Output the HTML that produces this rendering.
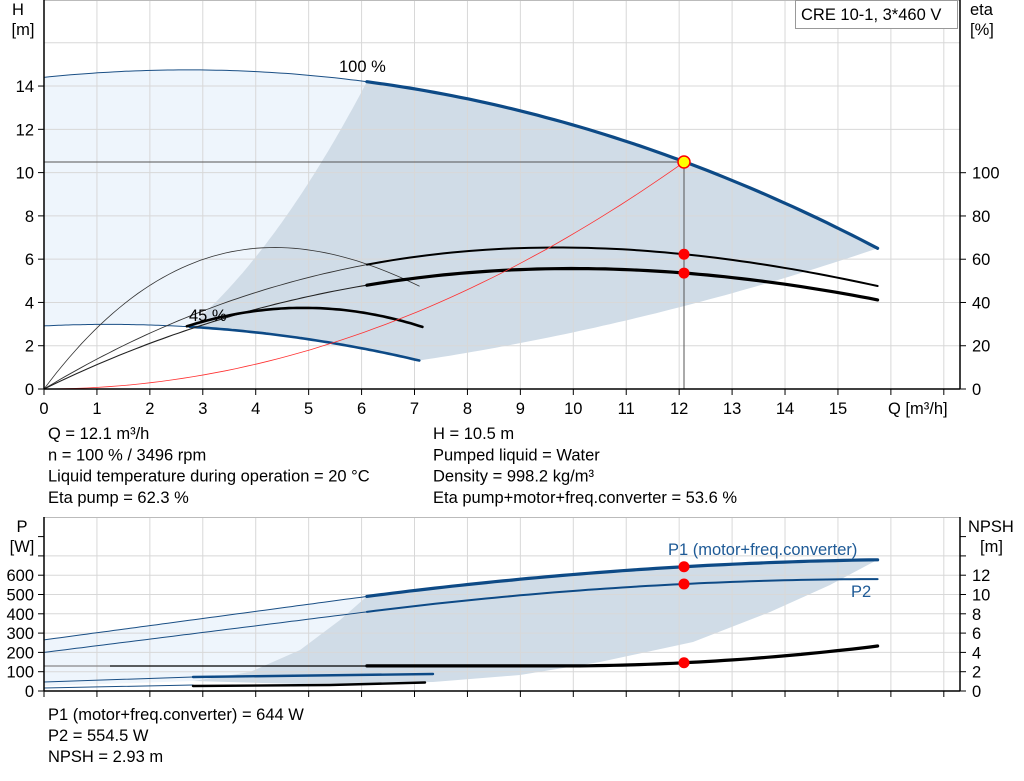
<!DOCTYPE html>
<html><head><meta charset="utf-8"><style>
html,body{margin:0;padding:0;background:#fff;}
svg{display:block;font-family:"Liberation Sans",Arial,sans-serif;}
</style></head><body>
<svg id="s" width="1024" height="781" viewBox="0 0 1024 781" xmlns="http://www.w3.org/2000/svg">
<g id="g"></g>
</svg>
<script>
var g=document.getElementById('g');var out='';
function X(q){return 44+q*52.93;}
function YH(h){return 389-h*21.64;}
function YE(e){return 389-e*2.163;}
function YP(p){return 691-p*0.193;}
function YN(n){return 691-n*9.65;}
function path(f,a,b,Y,n){n=n||60;var s='';for(var i=0;i<=n;i++){var q=a+(b-a)*i/n;s+=(i?'L':'M')+X(q).toFixed(1)+','+Y(f(q)).toFixed(1);}return s;}
function pts(f,a,b,Y,n){n=n||60;var r=[];for(var i=0;i<=n;i++){var q=a+(b-a)*i/n;r.push(X(q).toFixed(1)+','+Y(f(q)).toFixed(1));}return r;}
function solve(A,B){var n=B.length;for(var i=0;i<n;i++){for(var j=i+1;j<n;j++){var f=A[j][i]/A[i][i];for(var k=i;k<n;k++)A[j][k]-=f*A[i][k];B[j]-=f*B[i];}}var x=[];for(var i=n-1;i>=0;i--){var s=B[i];for(var k=i+1;k<n;k++)s-=A[i][k]*x[k];x[i]=s/A[i][i];}return x;}
function cubic0(p){var A=p.map(function(t){return [t[0],t[0]*t[0],t[0]*t[0]*t[0]];});var c=solve(A,p.map(function(t){return t[1];}));return function(q){return c[0]*q+c[1]*q*q+c[2]*q*q*q;};}
function cubic(p){var A=p.map(function(t){return [1,t[0],t[0]*t[0],t[0]*t[0]*t[0]];});var c=solve(A,p.map(function(t){return t[1];}));return function(q){return c[0]+c[1]*q+c[2]*q*q+c[3]*q*q*q;};}
function quad(p){var A=p.map(function(t){return [1,t[0],t[0]*t[0]];});var c=solve(A,p.map(function(t){return t[1];}));return function(q){return c[0]+c[1]*q+c[2]*q*q;};}
function L(x1,y1,x2,y2,c,w){out+='<line x1="'+x1+'" y1="'+y1+'" x2="'+x2+'" y2="'+y2+'" stroke="'+c+'" stroke-width="'+(w||1)+'"/>';}
function T(x,y,t,o){o=o||'';out+='<text x="'+x+'" y="'+y+'" font-size="16.5" '+o+'>'+t+'</text>';}
function P(d,c,w){out+='<path d="'+d+'" fill="none" stroke="'+c+'" stroke-width="'+w+'" stroke-linecap="round"/>';}

var H100=cubic([[0,14.4],[6.1,14.2],[12.1,10.5],[15.75,6.5]]);
var H45=function(q){return 0.2025*H100(q/0.45);};
var kL=14.2/(6.1*6.1), kR=6.5/(15.75*15.75);
var light=pts(H100,0,6.1,YH).concat(pts(function(q){return kL*q*q;},6.1,2.75,YH)).concat(pts(H45,2.75,0,YH));
out+='<polygon points="'+light.join(' ')+'" fill="#eef5fc"/>';
var dark=pts(H100,6.1,15.75,YH).concat(pts(function(q){return kR*q*q;},15.75,7.09,YH)).concat(pts(H45,7.09,2.75,YH)).concat(pts(function(q){return kL*q*q;},2.75,6.1,YH));
out+='<polygon points="'+dark.join(' ')+'" fill="#d0dce7"/>';
for(var h=2;h<=16;h+=2)L(44,YH(h),960,YH(h),'#d8d8d8',1);
for(var q=1;q<=17;q++)L(X(q),0,X(q),389,'#d8d8d8',1);
L(44,0.5,960,0.5,'#bbb',1);
var P1=function(q){return q<6.1?265+q*(490-265)/6.1:quad([[6.1,490],[12.1,644],[15.75,680]])(q);};
var P2=function(q){return q<6.1?200+q*(410-200)/6.1:quad([[6.1,410],[12.1,554.5],[15.75,580]])(q);};
out+='<polygon points="44,640 370,596 340,620 300,650 250,672 193,681 44,686" fill="#eef5fc"/>';
var bd=pts(P1,6.1,15.75,YP,40).concat(['830,585','770,612','693,642','600,662','520,675','433,682','300,684','193,681','250,672','300,650','340,620']);
out+='<polygon points="'+bd.join(' ')+'" fill="#d0dce7"/>';
for(var p=100;p<=700;p+=100)L(44,YP(p),960,YP(p),'#d8d8d8',1);
for(var q=1;q<=17;q++)L(X(q),517,X(q),691,'#d8d8d8',1);
L(44,517.5,960,517.5,'#bbb',1);

P(path(H100,0,6.1,YH),'#1a4f85',1);
P(path(H100,6.1,15.75,YH),'#0d4a86',3.2);
P(path(H45,0,2.75,YH),'#1a4f85',1);
P(path(H45,2.75,7.09,YH),'#0d4a86',2.6);
var fE=cubic0([[6.1,57.5],[12.1,62.3],[15.75,47.6]]);
var gE=cubic0([[6.1,48],[12.1,53.6],[15.75,41.2]]);
var e45=quad([[2.7,29],[5,37.5],[7.15,28.7]]);
P(path(function(q){return fE(q/0.45);},0,7.09,YE),'#333',0.8);
P(path(fE,0,6.1,YE),'#333',0.9);
P(path(gE,0,6.1,YE),'#222',1.1);
P(path(fE,6.1,15.75,YE),'#000',2);
P(path(gE,6.1,15.75,YE),'#000',3.2);
P(path(e45,2.7,7.15,YE),'#000',2.6);
P(path(function(q){return 10.5/146.41*q*q;},0,12.1,YH),'#ff3030',0.8);
L(44,162,684,162,'#555',1);L(684,162,684,389,'#555',1);
out+='<circle cx="684" cy="162" r="6" fill="#ffff00" stroke="#ff0000" stroke-width="1.5"/>';
out+='<circle cx="684" cy="'+YE(62.3)+'" r="5.5" fill="#ff0000"/>';
out+='<circle cx="684" cy="'+YE(53.6)+'" r="5.5" fill="#ff0000"/>';
T(339,72,'100 %');T(189,321,'45 %');
L(44,0,44,389,'#000',1.5);L(44,389,960,389,'#000',1.5);L(960,0,960,389,'#000',1.5);
for(var h=0;h<=14;h+=2){L(38,YH(h),44,YH(h),'#000',1);T(34,YH(h)+6,h,'text-anchor="end"');}
for(var e=0;e<=100;e+=20){L(960,YE(e),966,YE(e),'#000',1);T(972,YE(e)+6,e);}
for(var q=0;q<=17;q++){L(X(q),389,X(q),395,'#000',1);if(q<=15)T(X(q),414,q,'text-anchor="middle"');}
T(888,414,'Q [m³/h]');
T(18,15,'H','text-anchor="middle"');T(23,35,'[m]','text-anchor="middle"');
T(970,15,'eta');T(970,35,'[%]');
out+='<rect x="795.5" y="0.5" width="162" height="28" fill="#fff" stroke="#999"/>';
T(801,20,'CRE 10-1, 3*460 V');
var tl=['Q = 12.1 m³/h','n = 100 % / 3496 rpm','Liquid temperature during operation = 20 °C','Eta pump = 62.3 %'];
var tr=['H = 10.5 m','Pumped liquid = Water','Density = 998.2 kg/m³','Eta pump+motor+freq.converter = 53.6 %'];
for(var i=0;i<4;i++){T(48,439+i*21.3,tl[i]);T(433,439+i*21.3,tr[i]);}
P(path(P1,0,6.1,YP),'#1a4f85',1);P(path(P1,6.1,15.75,YP),'#0d4a86',3.2);
P(path(P2,0,6.1,YP),'#1a4f85',1);P(path(P2,6.1,15.75,YP),'#0d4a86',2);
P('M44,682 L193,677','#1a4f85',1);P('M193,677 L433,674','#0d4a86',2.4);
P('M44,688 L193,685','#1a4f85',1);P('M193,686 L330,685 L425,682.5','#000',2.4);
var NP=function(q){var d=Math.max(0,q-10);return 2.6+0.0413*d+0.0551*d*d;};
L(44,666,110,666,'#888',1.2);L(110,666,370,666,'#000',1.2);
P(path(NP,6.1,15.75,YN),'#000',3.2);
out+='<circle cx="684" cy="'+YP(644)+'" r="5.5" fill="#ff0000"/>';
out+='<circle cx="684" cy="'+YP(554.5)+'" r="5.5" fill="#ff0000"/>';
out+='<circle cx="684" cy="'+YN(2.93)+'" r="5.5" fill="#ff0000"/>';
T(668,555,'P1 (motor+freq.converter)','fill="#1e5a96"');T(851,597,'P2','fill="#1e5a96"');
L(44,517,44,691,'#000',1.5);L(44,691,960,691,'#000',1.5);L(960,517,960,691,'#000',1.5);
for(var p=0;p<=800;p+=100){L(38,YP(p),44,YP(p),'#000',1);if(p<=600)T(34,YP(p)+6,p,'text-anchor="end"');}
for(var n=0;n<=16;n+=2){L(960,YN(n),966,YN(n),'#000',1);if(n<=12)T(972,YN(n)+6,n);}
for(var q=0;q<=17;q++)L(X(q),691,X(q),697,'#000',1);
T(22,532,'P','text-anchor="middle"');T(22,552,'[W]','text-anchor="middle"');
T(968,532,'NPSH');T(980,552,'[m]');
T(48,720,'P1 (motor+freq.converter) = 644 W');T(48,741,'P2 = 554.5 W');T(48,762,'NPSH = 2.93 m');
g.innerHTML=out;
</script>
</body></html>
